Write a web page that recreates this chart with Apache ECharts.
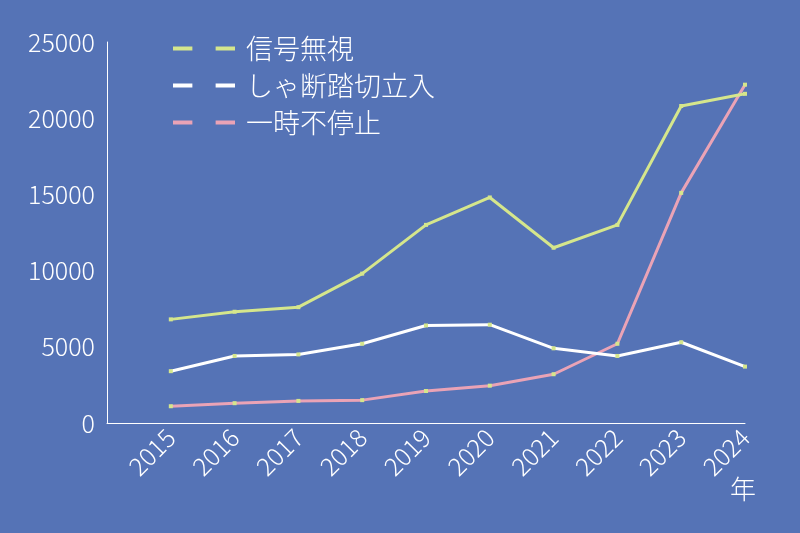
<!DOCTYPE html>
<html>
<head>
    <meta charset="utf-8">
    <script src="https://cdn.jsdelivr.net/npm/echarts@6/dist/echarts.min.js"></script>
    <style>
        * { margin: 0; padding: 0 }
        html, body { background: #5573b6; }
    </style>
</head>
<body>
<div id="chart" style="width:800px;height:533px;"></div>
<script>
    var years = [2015, 2016, 2017, 2018, 2019, 2020, 2021, 2022, 2023, 2024];
    var shingou = [6800, 7300, 7600, 9800, 13000, 14800, 11500, 13000, 20800, 21600];
    var fumikiri = [3400, 4400, 4500, 5200, 6400, 6450, 4900, 4400, 5300, 3700];
    var ichiji = [1100, 1300, 1450, 1500, 2100, 2450, 3200, 5200, 15100, 22200];
    var names = ["信号無視", "しゃ断踏切立入", "一時不停止"];
    var colors = ["#d5e68c", "#ffffff", "#eaa3b6"];

    function pairs(arr) {
        var out = [];
        for (var i = 0; i < years.length; i++) out.push([years[i], arr[i]]);
        return out;
    }

    var font = "'Noto Sans CJK JP', sans-serif";
    var chart = echarts.init(document.getElementById("chart"));
    var series = [shingou, fumikiri, ichiji].map(function (arr, i) {
        return {
            name: names[i],
            type: 'line',
            data: pairs(arr),
            symbol: 'rect',
            symbolSize: 4,
            itemStyle: { color: '#d5e68c' },
            lineStyle: { color: colors[i], width: 3 },
            z: 3 - i
        };
    });

    chart.setOption({
        textStyle: { fontFamily: font },
        grid: { left: 107, right: 55, top: 42, bottom: 110 },
        legend: {
            left: 168, top: 30, orient: 'vertical', itemGap: 10,
            itemWidth: 62, itemHeight: 6,
            icon: 'path://M0,0h5v1h-5z M11,0h5v1h-5z',
            data: names.map(function (n, i) { return { name: n, itemStyle: { color: colors[i] } }; }),
            textStyle: { color: '#fff', fontSize: 27, fontWeight: 300, fontFamily: font, padding: [0, 0, 0, 6] }
        },
        xAxis: {
            type: 'value', min: 2014, max: 2024, interval: 1,
            axisLine: { lineStyle: { color: '#fff', width: 1 } },
            axisTick: { show: false },
            splitLine: { show: false },
            axisLabel: {
                color: '#fff', fontSize: 25, fontWeight: 300, rotate: 45, margin: 10,
                formatter: function (v) { return v === 2014 ? '' : String(v); }
            }
        },
        yAxis: {
            type: 'value', min: 0, max: 25000, interval: 5000,
            axisLine: { show: true, lineStyle: { color: '#fff', width: 1 } },
            axisTick: { show: false },
            splitLine: { show: false },
            axisLabel: { color: '#fff', fontSize: 25, fontWeight: 300, margin: 12,
                formatter: function (v) { return String(v); } }
        },
        graphic: [{
            type: 'text', left: 730, top: 476,
            style: { text: '年', fill: '#fff', fontSize: 26, fontWeight: 300, fontFamily: font }
        }],
        series: series
    });
</script>
</body>
</html>
